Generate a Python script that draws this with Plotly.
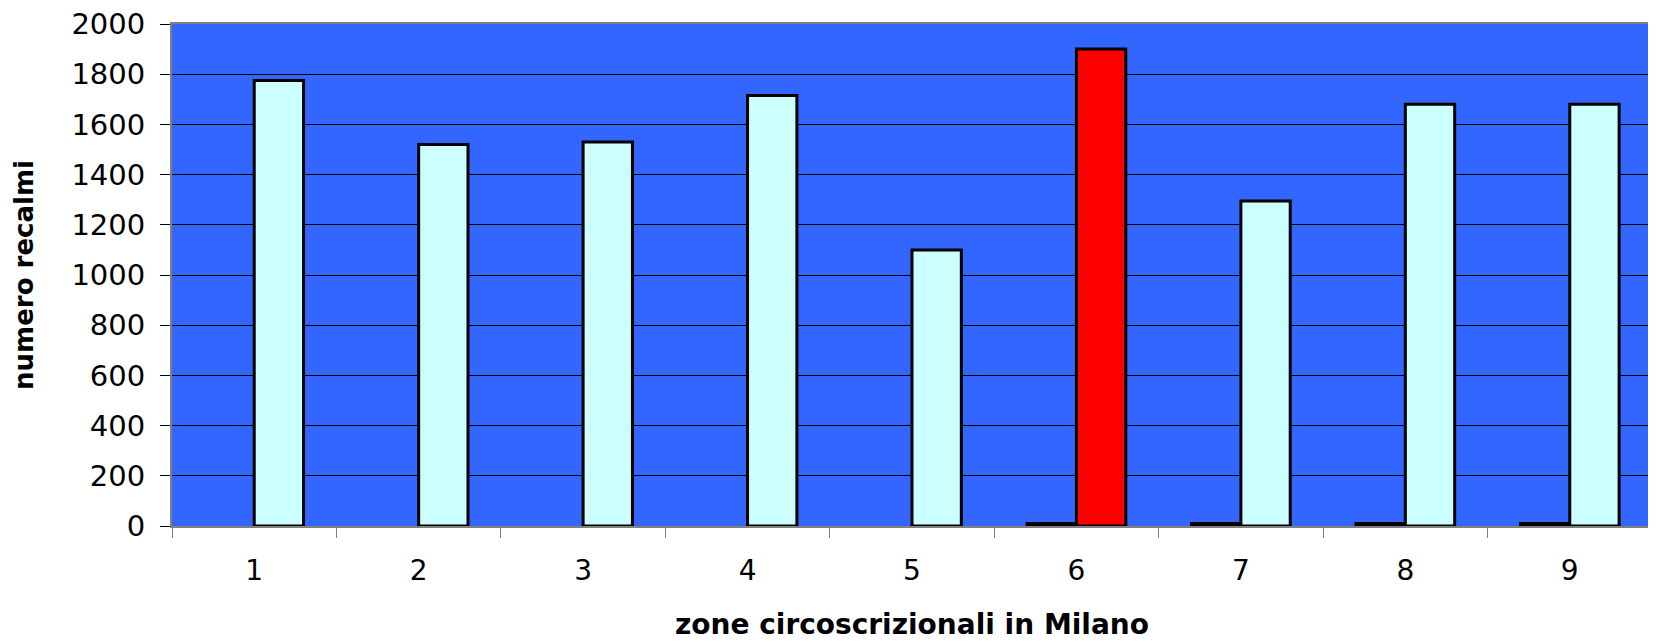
import plotly.graph_objects as go

zones = ["1", "2", "3", "4", "5", "6", "7", "8", "9"]
serie_minore = [None, None, None, None, None, 10, 10, 10, 10]
reclami = [1775, 1520, 1530, 1715, 1100, 1900, 1295, 1680, 1680]
colori = ["#CCFFFF"] * 5 + ["#FF0000"] + ["#CCFFFF"] * 3
y_ticks = list(range(0, 2001, 200))

fig = go.Figure()
fig.add_trace(go.Bar(
    x=zones, y=serie_minore, marker=dict(color="#000080", line=dict(color="black", width=3)),
    showlegend=False, hoverinfo="skip"))
fig.add_trace(go.Bar(
    x=zones, y=reclami, marker=dict(color=colori, line=dict(color="black", width=3)),
    showlegend=False))

font_family = "DejaVu Sans, Liberation Sans, Arial, sans-serif"
fig.update_layout(
    width=1656, height=642,
    margin=dict(l=164, r=12, t=16, b=124),
    paper_bgcolor="white", plot_bgcolor="#3366FF",
    barmode="group", bargap=0.40, bargroupgap=0,
    font=dict(family=font_family, color="black"),
    xaxis=dict(
        type="category", tickson="boundaries", ticks="outside", ticklen=10,
        tickcolor="#808080", tickwidth=1, showgrid=False, automargin=False,
        showline=True, linecolor="#808080", linewidth=2, mirror=True,
        tickfont=dict(size=28), ticklabelstandoff=18,
        title=dict(text="<b>zone circoscrizionali in Milano</b>", font=dict(size=28), standoff=29),
    ),
    yaxis=dict(
        range=[0, 2000], tickvals=y_ticks, ticks="outside", ticklen=10,
        tickcolor="#000000", tickwidth=1, showgrid=True, gridcolor="black", gridwidth=1,
        showline=True, linecolor="#808080", linewidth=2, mirror=True, automargin=False,
        tickfont=dict(size=29), ticklabelstandoff=9, zeroline=False,
        ticklabeloverflow="allow",
        title=dict(text="<b>numero recalmi</b>", font=dict(size=26), standoff=30),
    ),
)

fig.write_html("out.html")
